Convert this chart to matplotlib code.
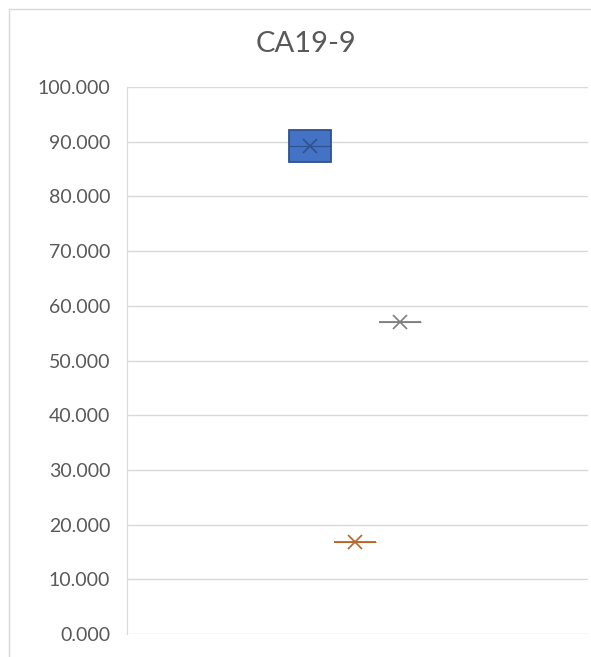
import matplotlib.pyplot as plt
from matplotlib.patches import Rectangle

plt.rcParams['font.family'] = ['Lato', 'DejaVu Sans']

TITLE = 'CA19-9'

# box summary per series: lower whisker, q1, median, q3, upper whisker, mean
series_names = ['Serie 1', 'Serie 2', 'Serie 3']
whislo = [86.3, 16.9, 57.1]
q1 = [86.3, 16.9, 57.1]
med = [89.2, 16.9, 57.1]
q3 = [92.1, 16.9, 57.1]
whishi = [92.1, 16.9, 57.1]
means = [89.3, 16.9, 57.1]

fill_colors = ['#4472C4', '#ED7D31', '#A5A5A5']
edge_colors = ['#2F528F', '#B8652B', '#7F7F7F']

y_ticks = list(range(0, 101, 10))

fig = plt.figure(figsize=(5.91, 6.57), dpi=100)

# outer chart frame
fig.patches.append(Rectangle((8.5 / 591, -0.1), 1.2, 1 - 8.5 / 657 + 0.1,
                             transform=fig.transFigure, fill=False,
                             edgecolor='#D9D9D9', linewidth=1.0))

ax = fig.add_axes([127 / 591, 23 / 657, 461 / 591, 547 / 657])

positions = [-1, 0, 1]
for i in range(len(series_names)):
    stats = [{
        'whislo': whislo[i], 'q1': q1[i], 'med': med[i], 'q3': q3[i],
        'whishi': whishi[i], 'mean': means[i], 'fliers': [],
        'label': series_names[i],
    }]
    ax.bxp(stats, positions=[positions[i]], widths=0.95, patch_artist=True,
           showmeans=True, showcaps=False, manage_ticks=False,
           boxprops=dict(facecolor=fill_colors[i], edgecolor=edge_colors[i], linewidth=1.3),
           medianprops=dict(color=edge_colors[i], linewidth=0.8),
           whiskerprops=dict(color=edge_colors[i], linewidth=1.3),
           meanprops=dict(marker='x', markeredgecolor=edge_colors[i],
                          markersize=10, markeredgewidth=1.2))

ax.set_xlim(-5.065, 5.18)
ax.set_ylim(0, 100)
ax.set_yticks(y_ticks)
ax.set_yticklabels([f'{v:.3f}' for v in y_ticks])
ax.set_xticks([])
ax.tick_params(axis='y', length=0, pad=12, labelsize=14, labelcolor='#595959')
ax.grid(axis='y', color='#D9D9D9', linewidth=1.0)
ax.set_axisbelow(True)
for side in ['top', 'right', 'bottom']:
    ax.spines[side].set_visible(False)
ax.spines['left'].set_color('#D9D9D9')

fig.text(306 / 591, 1 - 44 / 657, TITLE, ha='center', va='center',
         fontsize=21, color='#595959')

fig.savefig('out.png', dpi=100)
